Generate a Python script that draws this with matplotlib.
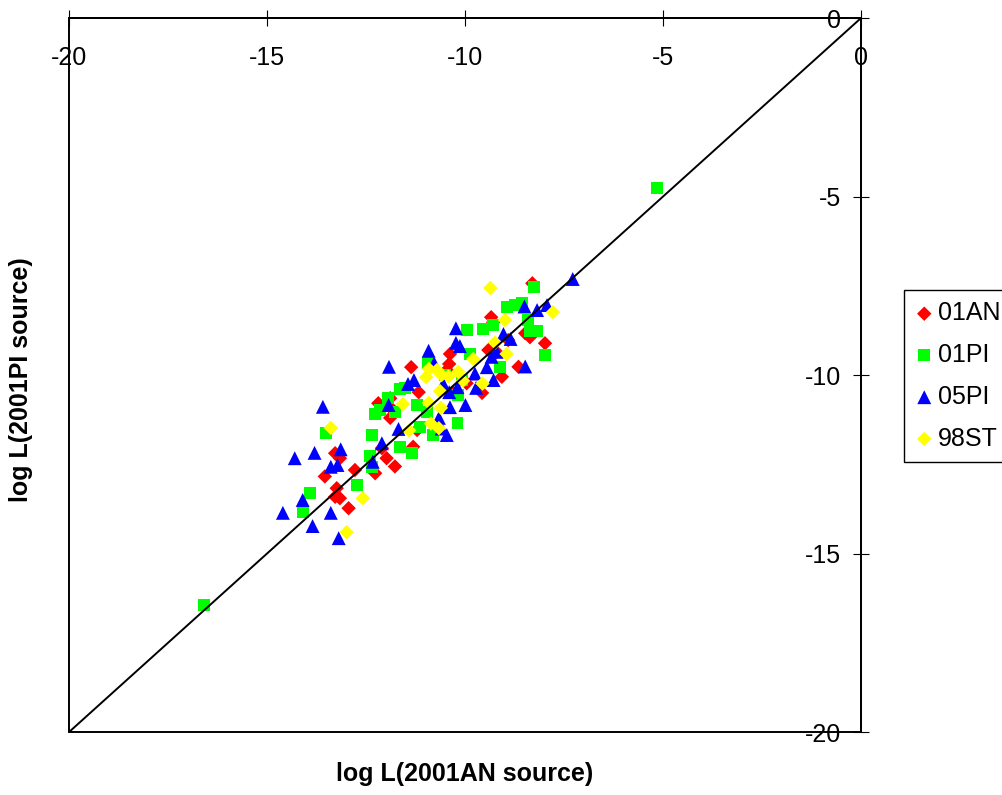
import matplotlib
matplotlib.use("Agg")
import matplotlib.pyplot as plt

plt.rcParams["font.family"] = ["Liberation Sans", "DejaVu Sans"]
plt.rcParams["axes.unicode_minus"] = False

# log L estimates: 2001AN source (x) vs 2001PI source (y)
an01_x = [-8.30, -9.34, -9.29, -8.48, -8.36, -7.98, -8.65, -9.07, -9.57, -8.91,
          -9.41, -9.20, -9.96, -10.38, -10.40, -11.36, -11.17, -11.89, -11.82, -11.21,
          -11.31, -12.10, -11.98, -11.77, -12.27, -12.78, -13.54, -13.24, -13.16, -12.94,
          -13.28, -13.16, -12.19, -11.89, -10.30, -10.46, -13.28]
an01_y = [-7.43, -8.38, -8.52, -8.83, -8.94, -9.11, -9.77, -10.05, -10.50, -9.02,
          -9.30, -9.36, -10.23, -9.41, -9.69, -9.78, -10.48, -11.20, -10.98, -11.54,
          -12.01, -12.05, -12.33, -12.56, -12.75, -12.66, -12.84, -13.17, -13.45, -13.73,
          -12.19, -12.33, -10.79, -10.65, -10.51, -9.86, -13.41]

pi01_x = [-16.59, -5.15, -8.27, -8.95, -8.74, -8.57, -8.40, -8.36, -8.17, -7.97,
          -9.94, -9.54, -9.29, -9.12, -9.87, -10.93, -11.64, -11.94, -12.27, -12.15,
          -11.22, -10.96, -10.19, -10.80, -11.64, -11.35, -12.36, -12.40, -12.36, -12.72,
          -13.51, -13.91, -14.08, -10.18, -11.14, -11.77, -10.51, -10.08, -11.52]
pi01_y = [-16.44, -4.76, -7.54, -8.09, -8.04, -7.99, -8.46, -8.77, -8.77, -9.44,
          -8.74, -8.70, -8.60, -9.77, -9.41, -9.67, -10.39, -10.65, -11.09, -10.98,
          -10.84, -11.04, -11.34, -11.68, -12.01, -12.19, -11.68, -12.27, -12.57, -13.08,
          -11.62, -13.31, -13.83, -10.56, -11.46, -11.03, -10.00, -10.14, -10.36]

pi05_x = [-7.28, -8.50, -8.18, -7.93, -10.23, -10.23, -10.13, -9.03, -8.85, -9.33,
          -9.20, -10.92, -11.92, -11.29, -11.44, -10.78, -9.45, -9.28, -9.75, -9.72,
          -10.19, -10.40, -9.99, -10.38, -8.48, -10.55, -11.93, -10.66, -10.59, -11.68,
          -10.46, -12.10, -12.33, -13.59, -14.30, -13.80, -13.14, -13.39, -13.22, -14.10,
          -14.60, -13.85, -13.39, -13.19]
pi05_y = [-7.31, -8.08, -8.18, -8.04, -8.69, -9.10, -9.19, -8.85, -8.99, -9.49,
          -9.35, -9.32, -9.77, -10.14, -10.25, -9.67, -9.78, -10.14, -9.96, -10.36,
          -10.34, -10.48, -10.84, -10.90, -9.76, -10.25, -10.84, -11.20, -11.50, -11.51,
          -11.68, -11.91, -12.43, -10.89, -12.33, -12.18, -12.08, -12.57, -12.52, -13.50,
          -13.86, -14.23, -13.86, -14.57]

st98_x = [-9.36, -7.78, -8.99, -9.24, -8.95, -9.79, -9.56, -10.05, -10.17, -10.42,
          -10.59, -10.71, -10.91, -10.98, -10.63, -11.57, -10.91, -10.61, -10.86, -10.66,
          -11.41, -13.39, -12.58, -12.99]
st98_y = [-7.56, -8.24, -8.46, -9.09, -9.41, -9.55, -10.24, -10.16, -9.91, -10.04,
          -10.00, -9.86, -9.83, -10.06, -10.45, -10.81, -10.78, -10.92, -11.36, -11.49,
          -11.55, -11.48, -13.45, -14.40]

ticks = [-20, -15, -10, -5, 0]

fig = plt.figure(figsize=(10.02, 7.95), dpi=100)
ax = fig.add_axes([0.0689, 0.0792, 0.7904, 0.8981])

ax.scatter(an01_x, an01_y, marker="D", s=54, color="#FF0000", edgecolors="none", label="01AN", zorder=2)
ax.scatter(pi01_x, pi01_y, marker="s", s=74, color="#00FF00", edgecolors="none", label="01PI", zorder=2)
ax.scatter(pi05_x, pi05_y, marker="^", s=100, color="#0000FF", edgecolors="none", label="05PI", zorder=2)
ax.scatter(st98_x, st98_y, marker="D", s=54, color="#FFFF00", edgecolors="none", label="98ST", zorder=2)

# 1:1 line
ax.axline((0, 0), slope=1, color="black", lw=1.4, zorder=3)

ax.set_xlim(-20, 0)
ax.set_ylim(-20, 0)
ax.set_xticks(ticks)
ax.set_yticks(ticks)

# axes cross at 0,0 -> top and right edges of the plot area
ax.spines["left"].set_position(("data", 0))
ax.spines["bottom"].set_position(("data", 0))
for side in ["top", "right"]:
    ax.spines[side].set_visible(False)
for side in ["left", "bottom"]:
    ax.spines[side].set_linewidth(1.4)
ax.patch.set_edgecolor("black")
ax.patch.set_linewidth(1.4)

ax.tick_params(axis="x", direction="inout", length=11.5, width=0.8, pad=14.4, labelsize=18)
ax.tick_params(axis="y", direction="inout", length=11.5, width=0.8, pad=8.7, labelsize=18)

ax.set_xlabel("log L(2001AN source)", fontsize=18, fontweight="bold")
ax.set_ylabel("log L(2001PI source)", fontsize=18, fontweight="bold")
ax.xaxis.set_label_coords(0.5, -0.042)
ax.yaxis.set_label_coords(-0.046, 0.493)

fig.legend(loc="upper left", bbox_to_anchor=(0.9022, 0.6352), borderaxespad=0,
           fontsize=18, frameon=True, fancybox=False, edgecolor="black",
           framealpha=1, borderpad=0.45, handlelength=0.72, handletextpad=0.2,
           labelspacing=0.71, scatterpoints=1)

fig.savefig("out.png", dpi=100)
